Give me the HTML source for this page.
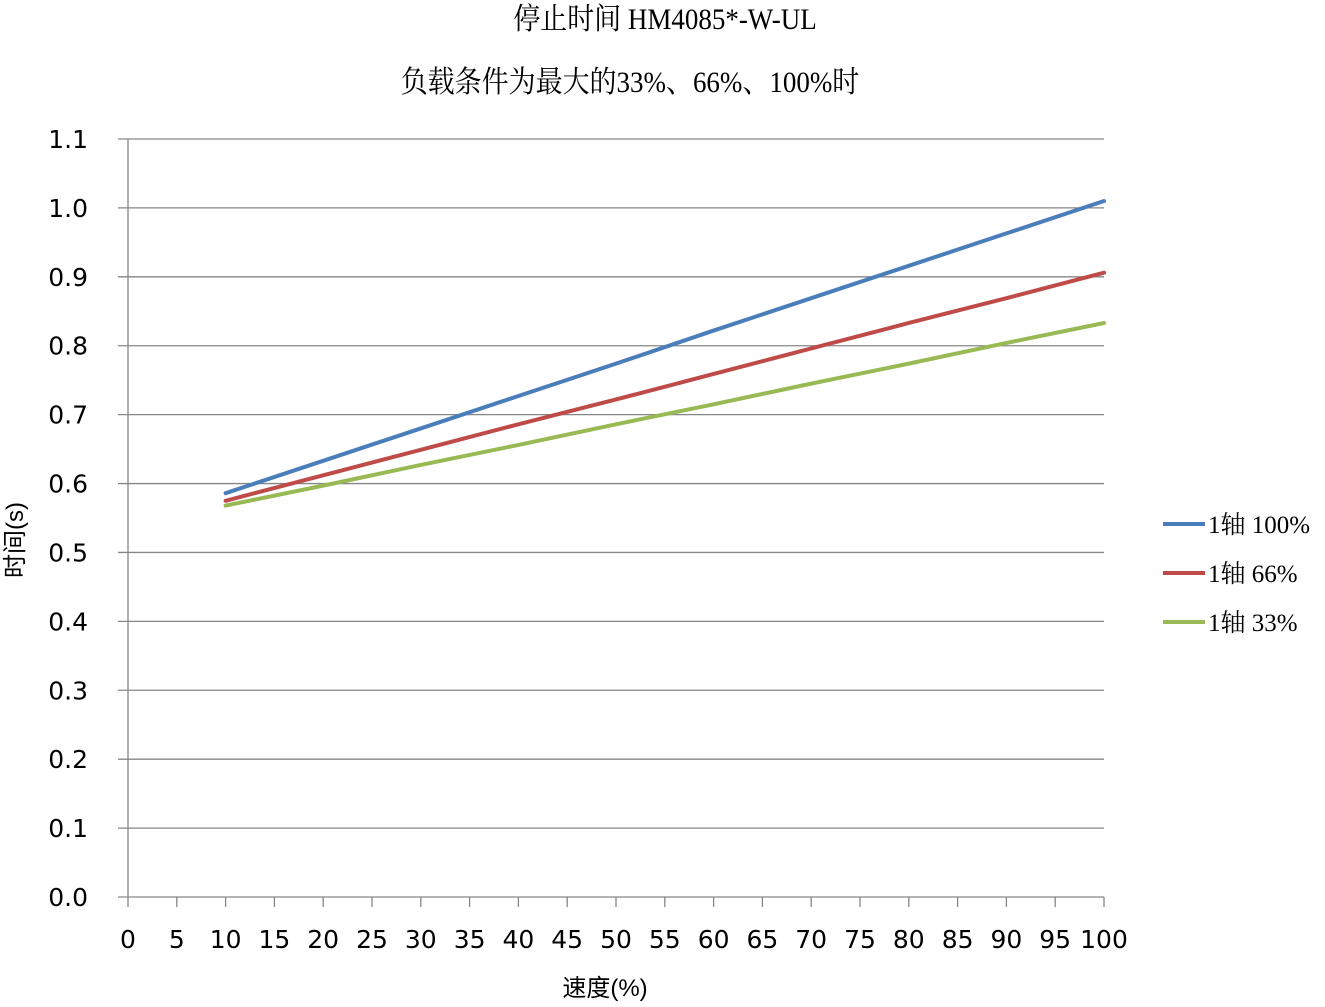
<!DOCTYPE html>
<html><head><meta charset="utf-8"><style>
body{margin:0;background:#fff;}
svg text{fill:#000;}
.t{font-family:"Liberation Serif","Noto Serif CJK SC",serif;font-size:30px;}
.tk{font-family:"DejaVu Sans","Liberation Sans",sans-serif;font-size:25px;}
.lg{font-family:"Liberation Serif","Noto Serif CJK SC",serif;font-size:25px;}
</style></head><body>
<svg id="chart" width="1325" height="1002" xmlns="http://www.w3.org/2000/svg">
<text class="t" x="665" y="29" text-anchor="middle" transform="translate(665 0) scale(0.9 1) translate(-665 0)">停止时间 HM4085*-W-UL</text>
<text class="t" x="630" y="92" text-anchor="middle" transform="translate(630 0) scale(0.9 1) translate(-630 0)">负载条件为最大的33%、66%、100%时</text>
<g id="grid"></g>
<g id="axes"></g>
<g id="series"></g>
<g id="legend"></g>
<text x="605" y="996" text-anchor="middle" style="font-family:'Liberation Sans','Noto Sans CJK SC',sans-serif;font-size:24px;">速度(%)</text>
<text x="0" y="0" text-anchor="middle" transform="translate(23 540) rotate(-90)" style="font-family:'Liberation Sans','Noto Sans CJK SC',sans-serif;font-size:24px;">时间(s)</text>
</svg>
<script>
const xCats=[10,20,30,40,50,60,70,80,90,100];
const s100=[0.586,0.633,0.680,0.727,0.774,0.822,0.869,0.916,0.963,1.010];
const s66=[0.575,0.612,0.649,0.686,0.722,0.759,0.796,0.833,0.869,0.906];
const s33=[0.568,0.597,0.627,0.656,0.686,0.715,0.745,0.774,0.804,0.833];
const yTicks=["0.0","0.1","0.2","0.3","0.4","0.5","0.6","0.7","0.8","0.9","1.0","1.1"];
const xTicks=[0,5,10,15,20,25,30,35,40,45,50,55,60,65,70,75,80,85,90,95,100];
const seriesNames=["1轴  100%","1轴  66%","1轴  33%"];
const colors=["#4a7ebb","#be4b48","#98b954"];
const NS="http://www.w3.org/2000/svg";
const X=v=>128+v*(1104-128)/100;
const Y=v=>897-v*(897-139)/1.1;
function mk(p,tag,a){const e=document.createElementNS(NS,tag);for(const k in a)e.setAttribute(k,a[k]);p.appendChild(e);return e;}
const grid=document.getElementById('grid'),axes=document.getElementById('axes'),ser=document.getElementById('series'),leg=document.getElementById('legend');
yTicks.forEach((t,i)=>{const v=parseFloat(t);const y=Y(v);
 const l=mk(grid,'line',{x1:118,x2:1104,y1:y,y2:y,stroke:'#868686','stroke-width':1.3});
 
 
 const tx=mk(axes,'text',{x:88,y:y+9,'text-anchor':'end',class:'tk'});tx.textContent=t;
 
 
});
mk(axes,'line',{x1:128,x2:128,y1:139,y2:897,stroke:'#868686','stroke-width':1.3});
xTicks.forEach(v=>{const x=X(v);
 mk(axes,'line',{x1:x,x2:x,y1:897,y2:907,stroke:'#868686','stroke-width':1.3});
 const tx=mk(axes,'text',{x:x,y:948,'text-anchor':'middle',class:'tk'});tx.textContent=v;
 
 
});
[s100,s66,s33].forEach((s,i)=>{
 const p=mk(ser,'polyline',{points:s.map((v,j)=>X(xCats[j])+','+Y(v)).join(' '),fill:'none',stroke:colors[i],'stroke-width':4,'stroke-linecap':'round'});
 
 
 const ly=524+i*49;
 const ll=mk(leg,'line',{x1:1163,x2:1205,y1:ly,y2:ly,stroke:colors[i],'stroke-width':4});
 
 
 const lt=mk(leg,'text',{x:1208,y:ly+9,class:'lg'});lt.textContent=seriesNames[i];
 
 
});
</script>
</body></html>
